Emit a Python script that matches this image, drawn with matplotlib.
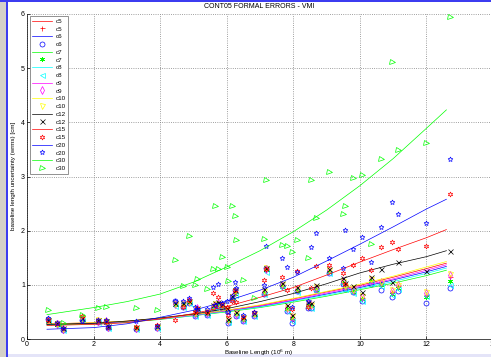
import numpy as np
import matplotlib
matplotlib.use('Agg')
import matplotlib.pyplot as plt
from matplotlib.patches import Rectangle

plt.rcParams['font.family'] = ['Liberation Sans', 'DejaVu Sans']

# baseline lengths (10^6 m), shared by all sessions
baselines = [0.62, 0.90, 1.08, 1.65, 2.13, 2.37, 2.43, 3.27, 3.90, 4.45,
             4.70, 4.88, 5.05, 5.10, 5.42, 5.58, 5.65, 5.73, 5.85, 6.00,
             6.05, 6.15, 6.25, 6.27, 6.50, 6.83, 7.13, 7.18, 7.67, 7.80,
             7.95, 8.10, 8.43, 8.52, 8.68, 9.08, 9.50, 9.55, 9.78, 10.07,
             10.33, 10.65, 10.96, 11.15, 11.98, 12.70]

# wrms baseline length uncertainty [cm] per session
c5 = [0.34, 0.27, 0.17, 0.37, 0.33, 0.33, 0.22, 0.19, 0.22, 0.66, 0.62, 0.69, 0.46, 0.55, 0.48, 0.59,
      0.63, 0.65, 0.61, 0.54, 0.33, 0.76, 0.86, 0.46, 0.37, 0.46, 0.86, 1.29, 0.98, 0.56, 0.36, 0.91,
      0.60, 0.60, 0.93, 1.26, 1.06, 0.96, 0.89, 0.76, 1.06, 1.03, 0.86, 0.97, 0.82, 1.15]
c6 = [0.37, 0.29, 0.16, 0.35, 0.32, 0.31, 0.20, 0.18, 0.21, 0.70, 0.60, 0.66, 0.43, 0.52, 0.45, 0.57,
      0.60, 0.62, 0.58, 0.51, 0.30, 0.73, 0.90, 0.43, 0.34, 0.43, 0.83, 1.32, 1.00, 0.52, 0.30, 0.88,
      0.58, 0.57, 0.90, 1.22, 1.02, 0.93, 0.86, 0.70, 1.02, 0.90, 0.77, 0.88, 0.67, 0.95]
c7 = [0.33, 0.26, 0.18, 0.36, 0.34, 0.32, 0.22, 0.20, 0.23, 0.63, 0.64, 0.68, 0.45, 0.56, 0.47, 0.58,
      0.62, 0.64, 0.60, 0.53, 0.34, 0.75, 0.84, 0.46, 0.36, 0.45, 0.85, 1.27, 0.96, 0.55, 0.38, 0.89,
      0.63, 0.61, 0.91, 1.24, 1.04, 0.95, 0.87, 0.73, 1.07, 1.00, 0.84, 0.95, 0.78, 1.08]
c8 = [0.32, 0.25, 0.17, 0.35, 0.32, 0.31, 0.21, 0.19, 0.21, 0.61, 0.60, 0.66, 0.43, 0.53, 0.45, 0.56,
      0.60, 0.62, 0.58, 0.51, 0.31, 0.72, 0.82, 0.44, 0.34, 0.43, 0.83, 1.24, 0.94, 0.52, 0.33, 0.87,
      0.60, 0.58, 0.89, 1.22, 1.01, 0.93, 0.85, 0.70, 1.03, 0.98, 0.82, 0.93, 0.80, 0.99]
c9 = [0.35, 0.28, 0.19, 0.37, 0.34, 0.33, 0.23, 0.20, 0.22, 0.65, 0.64, 0.70, 0.47, 0.57, 0.48, 0.60,
      0.63, 0.66, 0.61, 0.55, 0.35, 0.77, 0.87, 0.47, 0.37, 0.47, 0.87, 1.30, 0.99, 0.57, 0.40, 0.92,
      0.64, 0.62, 0.95, 1.27, 1.07, 0.97, 0.90, 0.78, 1.09, 1.06, 0.88, 0.99, 0.85, 1.18]
c10 = [0.36, 0.28, 0.18, 0.38, 0.35, 0.34, 0.23, 0.21, 0.23, 0.64, 0.65, 0.69, 0.48, 0.56, 0.49, 0.60,
       0.64, 0.65, 0.62, 0.55, 0.36, 0.78, 0.88, 0.48, 0.38, 0.47, 0.88, 1.31, 1.01, 0.58, 0.42, 0.93,
       0.63, 0.63, 0.96, 1.28, 1.08, 0.98, 0.91, 0.80, 1.10, 1.05, 0.90, 1.00, 0.86, 1.20]
c12 = [0.36, 0.29, 0.20, 0.38, 0.35, 0.34, 0.24, 0.22, 0.24, 0.67, 0.66, 0.71, 0.49, 0.58, 0.50, 0.63,
       0.66, 0.68, 0.64, 0.57, 0.37, 0.80, 0.90, 0.50, 0.40, 0.48, 0.92, 1.32, 1.04, 0.62, 0.45, 0.96,
       0.68, 0.66, 1.00, 1.30, 1.12, 1.03, 0.97, 0.86, 1.15, 1.30, 1.05, 1.43, 1.25, 1.63]
c15 = [0.36, 0.29, 0.20, 0.42, 0.35, 0.34, 0.22, 0.22, 0.25, 0.35, 0.60, 0.72, 0.50, 0.58, 0.50, 0.85,
       0.63, 0.78, 0.64, 0.60, 0.45, 0.70, 0.90, 0.69, 0.40, 0.50, 1.09, 1.30, 1.14, 0.90, 0.55, 1.25,
       0.60, 0.95, 1.34, 1.36, 1.21, 1.02, 1.36, 1.50, 1.27, 1.70, 1.79, 1.67, 1.71, 2.67]
c20 = [0.38, 0.30, 0.20, 0.33, 0.36, 0.35, 0.22, 0.33, 0.24, 0.70, 0.71, 0.75, 0.60, 0.56, 0.55, 0.96,
       0.63, 1.02, 0.66, 0.70, 0.50, 0.80, 1.06, 0.94, 0.45, 0.50, 0.99, 1.72, 1.50, 1.33, 0.60, 1.24,
       0.70, 1.70, 1.95, 1.50, 1.32, 2.01, 1.66, 1.88, 1.42, 2.06, 2.53, 2.31, 2.14, 3.32]
c30 = [0.53, np.nan, 0.29, 0.44, 0.58, 0.60, np.nan, 0.58, 0.53, 1.45, 0.98, 1.90, 0.99, 1.10, 0.93, 1.30,
       2.46, 1.30, 1.51, 1.33, 1.07, 2.46, 2.27, 1.82, 1.09, 0.76, 1.84, 2.93, 1.74, 1.71, 1.61, 1.82,
       1.49, 2.93, 2.23, 3.09, 2.31, 2.45, 2.98, 3.02, 1.75, 3.33, 5.11, 3.49, 3.62, 5.95]

# fitted trend curves
fit_x = [0.6, 2, 3, 4, 5, 6, 7, 8, 9, 10, 11, 12, 12.6]
fit_c5 = [0.28, 0.30, 0.33, 0.38, 0.45, 0.53, 0.62, 0.74, 0.87, 0.99, 1.14, 1.30, 1.40]
fit_c6 = [0.27, 0.29, 0.32, 0.37, 0.44, 0.52, 0.60, 0.71, 0.83, 0.95, 1.09, 1.24, 1.34]
fit_c7 = [0.26, 0.28, 0.31, 0.36, 0.43, 0.50, 0.58, 0.68, 0.79, 0.91, 1.03, 1.17, 1.27]
fit_c8 = [0.27, 0.29, 0.32, 0.37, 0.43, 0.51, 0.59, 0.70, 0.81, 0.93, 1.06, 1.21, 1.31]
fit_c9 = [0.28, 0.29, 0.32, 0.37, 0.44, 0.52, 0.61, 0.72, 0.85, 0.97, 1.11, 1.27, 1.37]
fit_c10 = [0.28, 0.30, 0.33, 0.38, 0.45, 0.53, 0.63, 0.75, 0.88, 1.01, 1.16, 1.33, 1.43]
fit_c12 = [0.27, 0.29, 0.33, 0.39, 0.46, 0.56, 0.69, 0.84, 1.02, 1.22, 1.38, 1.52, 1.63]
fit_c15 = [0.25, 0.27, 0.30, 0.37, 0.47, 0.60, 0.77, 0.95, 1.18, 1.42, 1.65, 1.87, 2.02]
fit_c20 = [0.18, 0.21, 0.28, 0.40, 0.53, 0.70, 0.90, 1.14, 1.44, 1.75, 2.07, 2.40, 2.58]
fit_c30 = [0.45, 0.58, 0.69, 0.83, 1.05, 1.33, 1.63, 1.98, 2.38, 2.83, 3.33, 3.89, 4.23]

names = ['c5', 'c6', 'c7', 'c8', 'c9', 'c10', 'c12', 'c15', 'c20', 'c30']
values = [c5, c6, c7, c8, c9, c10, c12, c15, c20, c30]
fits = [fit_c5, fit_c6, fit_c7, fit_c8, fit_c9, fit_c10, fit_c12, fit_c15, fit_c20, fit_c30]
# matlab-like pure colours
colors = ['#ff0000', '#0000ff', '#00ff00', '#00ffff', '#ff00ff', '#ffff00', '#000000',
          '#ff0000', '#0000ff', '#00ff00']
markers = ['+', 'o', (6, 2, 0), '<', 'd', 'v', 'x', (6, 1, 0), (5, 1, 0), '>']

fig = plt.figure(figsize=(4.91, 3.57), dpi=100)
fig.patch.set_facecolor('white')

# window frame bits of the screenshot
fig.patches.append(Rectangle((0, 0), 6 / 491, 1, transform=fig.transFigure,
                             facecolor='#d4d0c8', edgecolor='none', zorder=-5))
fig.patches.append(Rectangle((6 / 491, 0), 2 / 491, 1, transform=fig.transFigure,
                             facecolor='#3c3cf0', edgecolor='none', zorder=-5))
fig.patches.append(Rectangle((0, 1 - 2 / 357), 1, 2 / 357, transform=fig.transFigure,
                             facecolor='#3c3cf0', edgecolor='none', zorder=-5))
fig.patches.append(Rectangle((8 / 491, 0), 1, 3 / 357, transform=fig.transFigure,
                             facecolor='#e4e4f8', edgecolor='none', zorder=-5))

ax = fig.add_axes([27 / 491, 18 / 357, 466 / 491, 325 / 357])

for name, col, mk, vals, fit in zip(names, colors, markers, values, fits):
    ax.plot(fit_x, fit, color=col, lw=0.5, label=name)
    ax.plot(baselines, vals, ls='none', marker=mk, mec=col, mfc='none',
            ms=3.6, mew=0.5, label=name)

ax.set_xlim(0, 14)
ax.set_ylim(0, 6)
ax.set_xticks(np.arange(0, 15, 2))
ax.set_yticks(np.arange(0, 7, 1))
ax.grid(True, ls=':', color='#808080', lw=0.6)
ax.tick_params(direction='in', length=2, width=0.5, labelsize=5, pad=1.5)
for s in ['top', 'right']:
    ax.spines[s].set_visible(False)
for s in ['left', 'bottom']:
    ax.spines[s].set_linewidth(0.5)

leg = ax.legend(loc='upper left', bbox_to_anchor=(0.006, 0.994), borderaxespad=0,
                fontsize=4.5, labelspacing=0.38, handlelength=3.2, handletextpad=0.5,
                borderpad=0.4, fancybox=False, framealpha=1)
leg.get_frame().set_edgecolor('#808080')
leg.get_frame().set_linewidth(0.6)

fig.text(259 / 491, 1 - 7 / 357, 'CONT05 FORMAL ERRORS - VMI', fontsize=5,
         ha='center', va='center')
fig.text(259 / 491, 1 - 353 / 357, 'Baseline Length (10$^6$ m)', fontsize=4.5,
         ha='center', va='center')
fig.text(14 / 491, 1 - 176 / 357, 'baseline length uncertainty (wrms) [cm]', fontsize=4.5,
         ha='center', va='center', rotation=90)

fig.savefig('out.png', dpi=100)
